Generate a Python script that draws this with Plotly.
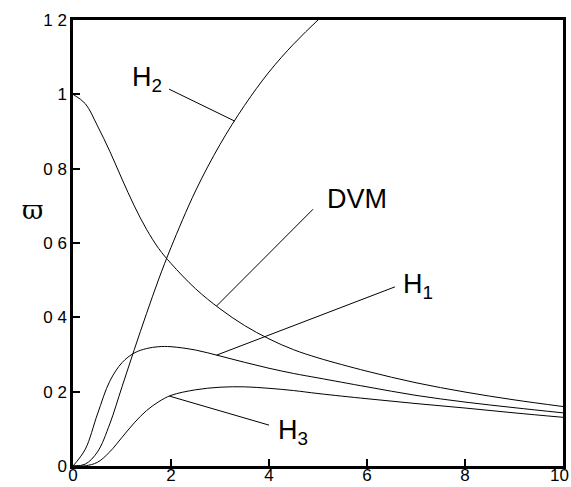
import numpy as np
import plotly.graph_objects as go

# ---- data ----
x_h2 = [0, 0.25, 0.5, 0.75, 1.0, 1.25, 1.5, 1.75, 2.0, 2.5, 3.0, 3.5, 4.0, 4.5, 5.0, 5.5]
y_h2 = [0, 0.005, 0.038, 0.113, 0.213, 0.313, 0.41, 0.503, 0.588, 0.74, 0.865, 0.97, 1.06, 1.135, 1.2, 1.26]

x_dvm = [0, 0.25, 0.5, 0.75, 1.0, 1.25, 1.5, 1.75, 2.0, 2.5, 3.0, 3.5, 4.0, 4.5, 5.0, 6, 7, 8, 9, 10]
y_dvm = [1.0, 0.975, 0.915, 0.847, 0.772, 0.7, 0.637, 0.585, 0.545, 0.477, 0.423, 0.378, 0.342, 0.313, 0.291, 0.255, 0.224, 0.199, 0.178, 0.16]

x_h1 = [0, 0.25, 0.5, 0.75, 1.0, 1.25, 1.5, 1.75, 2.0, 2.5, 3.0, 3.5, 4.0, 4.5, 5.0, 6, 7, 8, 9, 10]
y_h1 = [0, 0.045, 0.14, 0.228, 0.278, 0.304, 0.316, 0.321, 0.321, 0.312, 0.296, 0.279, 0.263, 0.249, 0.237, 0.213, 0.19, 0.172, 0.157, 0.143]

x_h3 = [0, 0.25, 0.5, 0.75, 1.0, 1.25, 1.5, 1.75, 2.0, 2.5, 3.0, 3.5, 4.0, 4.5, 5.0, 6, 7, 8, 9, 10]
y_h3 = [0, 0.0005, 0.01, 0.038, 0.077, 0.116, 0.149, 0.173, 0.19, 0.205, 0.212, 0.213, 0.209, 0.203, 0.195, 0.181, 0.168, 0.156, 0.143, 0.131]

x_ticks = [0, 2, 4, 6, 8, 10]
x_tick_text = ["0", "2", "4", "6", "8", "10"]
y_ticks = [0, 0.2, 0.4, 0.6, 0.8, 1.0, 1.2]
y_tick_text = ["0", "0 2", "0 4", "0 6", "0 8", "1", "1 2"]

series = [
    ("H<sub>2</sub>", x_h2, y_h2),
    ("DVM", x_dvm, y_dvm),
    ("H<sub>1</sub>", x_h1, y_h1),
    ("H<sub>3</sub>", x_h3, y_h3),
]

# label placement: (text anchor x, y), leader start (x, y), x on curve where leader ends
labels = {
    "H<sub>2</sub>": ((1.16, 1.04), (1.96, 1.014), 3.3),
    "DVM": ((5.14, 0.718), (4.90, 0.691), 2.93),
    "H<sub>1</sub>": ((6.70, 0.484), (6.57, 0.482), 2.93),
    "H<sub>3</sub>": ((4.15, 0.091), (4.0, 0.110), 1.97),
}

W, H = 571, 487
L, R, T, B = 73, 8, 20, 21
FONT = "Liberation Sans, Arial, sans-serif"

fig = go.Figure()

for name, xs, ys in series:
    fig.add_trace(go.Scatter(x=xs, y=ys, mode="lines", name=name,
                             line=dict(color="black", width=1, shape="spline", smoothing=1.0),
                             showlegend=False, hoverinfo="skip"))

for name, xs, ys in series:
    (tx, ty), (lx, ly), cx = labels[name]
    cy = float(np.interp(cx, xs, ys))
    fig.add_shape(type="line", x0=lx, y0=ly, x1=cx, y1=cy, xref="x", yref="y",
                  line=dict(color="black", width=1))
    fig.add_annotation(x=tx, y=ty, xref="x", yref="y", text=name, showarrow=False,
                       xanchor="left", yanchor="middle",
                       font=dict(family=FONT, size=27, color="black"))

# y-axis symbol (upright, as in the reference)
fig.add_annotation(x=(20 - L) / (W - L - R), y=(H - B - 210) / (H - T - B),
                   xref="paper", yref="paper", text="ϖ", showarrow=False,
                   font=dict(family="DejaVu Serif, serif", size=26, color="black"))

# last x tick label sits flush with the right edge, as in the reference
tick_labels_shown = list(x_tick_text)
tick_labels_shown[-1] = ""
fig.add_annotation(x=x_ticks[-1], xref="x", y=0, yref="paper", text=x_tick_text[-1],
                   showarrow=False, xanchor="right", yanchor="top", xshift=8, yshift=2,
                   font=dict(family=FONT, size=17, color="black"))

axis_common = dict(showgrid=False, zeroline=False, showline=True, mirror=True,
                   linecolor="black", linewidth=2.5, ticks="inside", ticklen=7,
                   tickwidth=2, tickcolor="black", automargin=False,
                   ticklabeloverflow="allow",
                   tickfont=dict(family=FONT, size=17, color="black"))

fig.update_xaxes(range=[0, 10], tickvals=x_ticks, ticktext=tick_labels_shown,
                 ticklabelstandoff=-8, **axis_common)
fig.update_yaxes(range=[0, 1.2], tickvals=y_ticks, ticktext=y_tick_text, **axis_common)

fig.update_layout(width=W, height=H, margin=dict(l=L, r=R, t=T, b=B),
                  plot_bgcolor="white", paper_bgcolor="white")

fig.write_html("out.html")
